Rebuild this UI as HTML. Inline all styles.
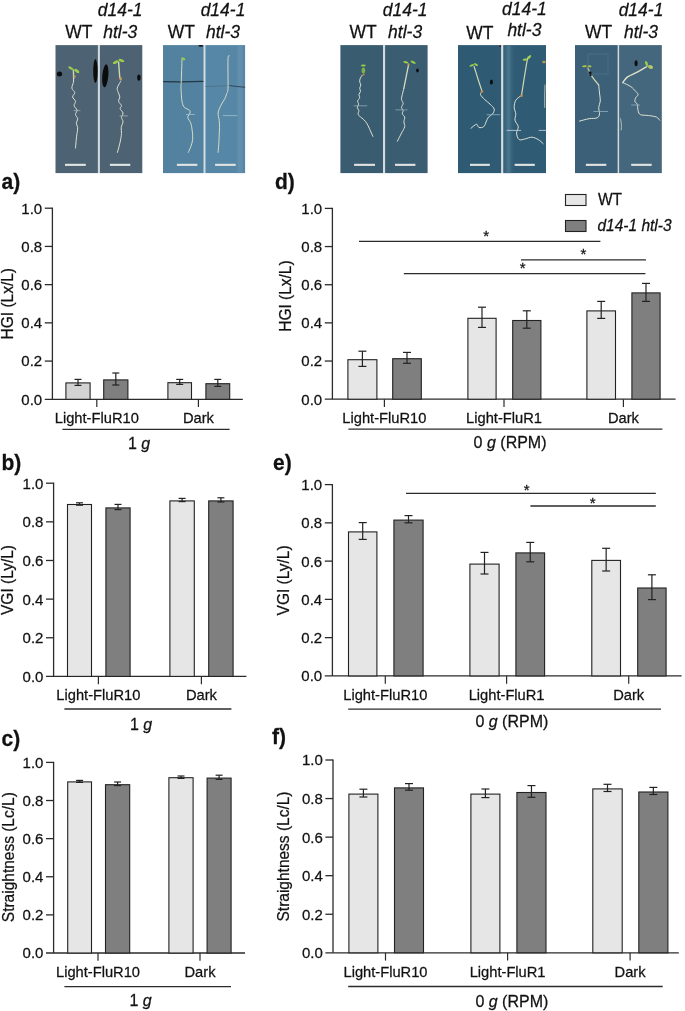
<!DOCTYPE html>
<html><head><meta charset="utf-8"><title>Figure</title>
<style>
html,body{margin:0;padding:0;background:#fff;}
body{width:685px;height:1011px;overflow:hidden;}
svg{display:block;font-family:"Liberation Sans", sans-serif;will-change:transform;}
text{stroke:#111;stroke-width:0.25px;paint-order:stroke;}
</style></head><body>
<svg width="685" height="1011" viewBox="0 0 685 1011">
<rect x="0" y="0" width="685" height="1011" fill="#fff"/>
<rect x="97.9" y="45.1" width="2" height="128" fill="#d3dbdf"/>
<rect x="203.6" y="45.1" width="1.8" height="128" fill="#d3dbdf"/>
<rect x="383" y="45.1" width="2.1" height="128" fill="#d3dbdf"/>
<rect x="501.1" y="45.1" width="2.2" height="128" fill="#d3dbdf"/>
<rect x="617.7" y="45.1" width="1.4" height="128" fill="#d3dbdf"/>
<rect x="55.5" y="45.1" width="42.4" height="128" fill="#4d6373"/>
<rect x="99.9" y="45.1" width="42.4" height="128" fill="#4d6373"/>
<rect x="163" y="45.1" width="40.6" height="128" fill="#5282a0"/>
<rect x="205.4" y="45.1" width="39.7" height="128" fill="#5787a6"/>
<rect x="340.4" y="45.1" width="42.6" height="128" fill="#3a5c71"/>
<rect x="385.1" y="45.1" width="42.5" height="128" fill="#3b5d72"/>
<rect x="458" y="45.1" width="43.1" height="128" fill="#2e5a74"/>
<rect x="503.3" y="45.1" width="42.7" height="128" fill="#305b75"/>
<rect x="575" y="45.1" width="42.7" height="128" fill="#3c6078"/>
<rect x="619.1" y="45.1" width="42.7" height="128" fill="#44677d"/>
<rect x="65" y="163.8" width="20.8" height="2.1" fill="#e2e4e4"/>
<rect x="109.9" y="163.8" width="20.4" height="2.1" fill="#e2e4e4"/>
<rect x="176.9" y="163.8" width="20.4" height="2.1" fill="#e2e4e4"/>
<rect x="215.1" y="163.8" width="20.6" height="2.1" fill="#e2e4e4"/>
<rect x="354.1" y="163.8" width="20.9" height="2.1" fill="#e2e4e4"/>
<rect x="395" y="163.8" width="20.4" height="2.1" fill="#e2e4e4"/>
<rect x="470" y="163.8" width="19.8" height="2.1" fill="#e2e4e4"/>
<rect x="514.6" y="163.8" width="20.2" height="2.1" fill="#e2e4e4"/>
<rect x="585.9" y="163.8" width="20.4" height="2.1" fill="#e2e4e4"/>
<rect x="631.2" y="163.8" width="20.5" height="2.1" fill="#e2e4e4"/>
<ellipse cx="59.5" cy="73.9" rx="2.6" ry="2.5" fill="#0c0c0c" opacity="1.0" transform="rotate(0 59.5 73.9)"/>
<ellipse cx="95.4" cy="71" rx="2.2" ry="12" fill="#0c0c0c" opacity="1.0" transform="rotate(0 95.4 71)"/>
<path d="M73.4,70 C73.43,71.4 73.57,77 73.6,78.4" fill="none" stroke="#cfd6b0" stroke-width="1.4" stroke-linejoin="round" stroke-linecap="round" opacity="1.0"/>
<path d="M73.6,78.4 C73.57,79.05 73.68,80.67 73.4,82.3 C73.12,83.93 71.67,86.48 71.9,88.2 C72.13,89.92 74.68,91.15 74.8,92.6 C74.92,94.05 72.48,95.45 72.6,96.9 C72.72,98.35 75.25,99.83 75.5,101.3 C75.75,102.77 73.85,104.23 74.1,105.7 C74.35,107.17 76.77,108.63 77,110.1 C77.23,111.57 75.38,113.05 75.5,114.5 C75.62,115.95 77.57,117.35 77.7,118.8 C77.83,120.25 76.3,121.73 76.3,123.2 C76.3,124.67 77.58,125.9 77.7,127.6 C77.82,129.3 77.23,131.45 77,133.4 C76.77,135.35 76.55,136.87 76.3,139.3 C76.05,141.73 75.63,146.55 75.5,148" fill="none" stroke="#dfe2d2" stroke-width="1.0" stroke-linejoin="round" stroke-linecap="round" opacity="1.0"/>
<path d="M74,110.6 L80,110.6" fill="none" stroke="#9fb0b8" stroke-width="0.8" stroke-linejoin="round" stroke-linecap="round" opacity="1.0"/>
<ellipse cx="70.8" cy="68.2" rx="2.8" ry="1.2" fill="#9acd4a" opacity="1.0" transform="rotate(30 70.8 68.2)"/>
<ellipse cx="76.8" cy="71" rx="3" ry="1.4" fill="#9acd4a" opacity="1.0" transform="rotate(35 76.8 71)"/>
<ellipse cx="74.6" cy="76.5" rx="1.3" ry="1.1" fill="#d49a55" opacity="1.0" transform="rotate(0 74.6 76.5)"/>
<ellipse cx="105.3" cy="75.8" rx="3" ry="11.6" fill="#0c0c0c" opacity="1.0" transform="rotate(5 105.3 75.8)"/>
<ellipse cx="138.9" cy="77.6" rx="1.7" ry="3.2" fill="#0c0c0c" opacity="1.0" transform="rotate(0 138.9 77.6)"/>
<path d="M118.6,61.9 C118.8,64.45 119.43,74.28 119.8,77.2 C120.17,80.12 120.63,79.03 120.8,79.4" fill="none" stroke="#cfd6b0" stroke-width="1.4" stroke-linejoin="round" stroke-linecap="round" opacity="1.0"/>
<path d="M120.8,80.9 C120.68,81.13 120.7,81.08 120.1,82.3 C119.5,83.52 117.5,86.48 117.2,88.2 C116.9,89.92 117.87,91.15 118.3,92.6 C118.73,94.05 119.75,95.45 119.8,96.9 C119.85,98.35 118.32,99.83 118.6,101.3 C118.88,102.77 121.25,104.48 121.5,105.7 C121.75,106.92 119.85,107.38 120.1,108.6 C120.35,109.82 122.77,111.53 123,113 C123.23,114.47 121.5,115.93 121.5,117.4 C121.5,118.87 123.05,120.1 123,121.8 C122.95,123.5 121.45,125.67 121.2,127.6 C120.95,129.53 121.68,130.97 121.5,133.4 C121.32,135.83 120.78,139.03 120.1,142.2 C119.42,145.37 117.85,150.7 117.4,152.4" fill="none" stroke="#dfe2d2" stroke-width="1.0" stroke-linejoin="round" stroke-linecap="round" opacity="1.0"/>
<path d="M120,115.9 L127.4,115.9" fill="none" stroke="#9fb0b8" stroke-width="0.8" stroke-linejoin="round" stroke-linecap="round" opacity="1.0"/>
<ellipse cx="115.6" cy="62.2" rx="3" ry="1.4" fill="#9acd4a" opacity="1.0" transform="rotate(-25 115.6 62.2)"/>
<ellipse cx="121.4" cy="60.5" rx="3" ry="1.4" fill="#9acd4a" opacity="1.0" transform="rotate(20 121.4 60.5)"/>
<ellipse cx="120.6" cy="78.6" rx="1.3" ry="1.3" fill="#d49a55" opacity="1.0" transform="rotate(0 120.6 78.6)"/>
<path d="M163.6,81.6 L180,81.9 L203,81.3" fill="none" stroke="#1c2a33" stroke-width="1.3" stroke-linejoin="round" stroke-linecap="round" opacity="0.85"/>
<path d="M182,59.7 C181.88,63.23 181.47,76.15 181.3,80.9 C181.13,85.65 180.88,84.8 181,88.2 C181.12,91.6 181.47,98.13 182,101.3 C182.53,104.47 182.98,105.73 184.2,107.2 C185.42,108.67 188.33,109.13 189.3,110.1 C190.27,111.07 190.25,111.78 190,113 C189.75,114.22 187.67,115.7 187.8,117.4 C187.93,119.1 190.07,121.02 190.8,123.2 C191.53,125.38 191.88,127.82 192.2,130.5 C192.52,133.18 192.93,136.62 192.7,139.3 C192.47,141.98 191.53,144.42 190.8,146.6 C190.07,148.78 188.72,151.43 188.3,152.4" fill="none" stroke="#d6dcc4" stroke-width="1.0" stroke-linejoin="round" stroke-linecap="round" opacity="1.0"/>
<path d="M186.4,114.5 L194.4,114.5" fill="none" stroke="#9ec0d0" stroke-width="0.8" stroke-linejoin="round" stroke-linecap="round" opacity="1.0"/>
<ellipse cx="183.2" cy="58.8" rx="2.2" ry="1.2" fill="#9acd4a" opacity="1.0" transform="rotate(20 183.2 58.8)"/>
<ellipse cx="200.8" cy="45.8" rx="2.5" ry="0.9" fill="#111" opacity="1.0" transform="rotate(0 200.8 45.8)"/>
<rect x="237.5" y="45.1" width="5" height="128" fill="#6a95b0" opacity="0.6"/>
<path d="M205.6,86.5 L220,86 L230,85.6" fill="none" stroke="#2a3a44" stroke-width="0.8" stroke-linejoin="round" stroke-linecap="round" opacity="0.3"/>
<path d="M230,85.6 L236,86.4 L244.8,87.2" fill="none" stroke="#1e2c36" stroke-width="1.0" stroke-linejoin="round" stroke-linecap="round" opacity="0.7"/>
<path d="M229.5,56 C229.25,56.5 228.25,53.63 228,59 C227.75,64.37 228.25,82.37 228,88.2 C227.75,94.03 227,92.3 226.5,94 C226,95.7 225.97,96.45 225,98.4 C224.03,100.35 221.85,103.27 220.7,105.7 C219.55,108.13 218.35,110.57 218.1,113 C217.85,115.43 218.97,117.87 219.2,120.3 C219.43,122.73 219.5,125.17 219.5,127.6 C219.5,130.03 219.3,132.47 219.2,134.9 C219.1,137.33 219.08,139.28 218.9,142.2 C218.72,145.12 218.23,150.7 218.1,152.4" fill="none" stroke="#d6dcc4" stroke-width="1.0" stroke-linejoin="round" stroke-linecap="round" opacity="1.0"/>
<path d="M223.2,115.6 L236.8,115.6" fill="none" stroke="#9ec0d0" stroke-width="0.8" stroke-linejoin="round" stroke-linecap="round" opacity="1.0"/>
<path d="M362.1,75.3 C361.78,75.83 360.6,77.42 360.2,78.5 C359.8,79.58 359.6,80.72 359.7,81.8 C359.8,82.88 360.8,83.93 360.8,85 C360.8,86.07 359.75,87.13 359.7,88.2 C359.65,89.27 360.63,90.33 360.5,91.4 C360.37,92.47 359.03,93.53 358.9,94.6 C358.77,95.67 359.92,96.73 359.7,97.8 C359.48,98.87 357.78,99.93 357.6,101 C357.42,102.07 358.65,103.13 358.6,104.2 C358.55,105.27 357.25,106.32 357.3,107.4 C357.35,108.48 358.77,109.62 358.9,110.7 C359.03,111.78 357.83,112.83 358.1,113.9 C358.37,114.97 359.57,116.17 360.5,117.1 C361.43,118.03 362.63,118.43 363.7,119.5 C364.77,120.57 365.97,122.03 366.9,123.5 C367.83,124.97 368.55,126.7 369.3,128.3 C370.05,129.9 370.78,131.75 371.4,133.1 C372.02,134.45 372.73,135.85 373,136.4" fill="none" stroke="#dfe2d2" stroke-width="1.0" stroke-linejoin="round" stroke-linecap="round" opacity="1.0"/>
<path d="M354.1,105.8 L366.9,105.8" fill="none" stroke="#90a8b8" stroke-width="0.8" stroke-linejoin="round" stroke-linecap="round" opacity="1.0"/>
<ellipse cx="363.4" cy="70.5" rx="1.8" ry="3" fill="#7fb04a" opacity="1.0" transform="rotate(0 363.4 70.5)"/>
<ellipse cx="363.3" cy="65.6" rx="2.4" ry="1" fill="#9acd4a" opacity="1.0" transform="rotate(0 363.3 65.6)"/>
<ellipse cx="363.6" cy="74.5" rx="1.1" ry="1" fill="#c88a4a" opacity="1.0" transform="rotate(0 363.6 74.5)"/>
<path d="M408.7,64.1 C408.43,65.43 407.63,69.43 407.1,72.1 C406.57,74.77 406.03,77.42 405.5,80.1 C404.97,82.78 404.17,86.85 403.9,88.2" fill="none" stroke="#d6dcc0" stroke-width="1.3" stroke-linejoin="round" stroke-linecap="round" opacity="1.0"/>
<path d="M403.9,88.2 C403.63,89.27 402.7,92.73 402.3,94.6 C401.9,96.47 401.37,97.93 401.5,99.4 C401.63,100.87 403.1,102.07 403.1,103.4 C403.1,104.73 401.5,106.18 401.5,107.4 C401.5,108.62 402.97,109.62 403.1,110.7 C403.23,111.78 402.03,112.83 402.3,113.9 C402.57,114.97 404.43,115.77 404.7,117.1 C404.97,118.43 403.9,120.3 403.9,121.9 C403.9,123.5 405.1,124.83 404.7,126.7 C404.3,128.57 402.72,130.68 401.5,133.1 C400.28,135.52 398.08,139.85 397.4,141.2" fill="none" stroke="#dfe2d2" stroke-width="1.0" stroke-linejoin="round" stroke-linecap="round" opacity="1.0"/>
<path d="M395.8,109.9 L407.1,109.9" fill="none" stroke="#90a8b8" stroke-width="0.8" stroke-linejoin="round" stroke-linecap="round" opacity="1.0"/>
<ellipse cx="405.8" cy="62.2" rx="2.6" ry="1" fill="#9acd4a" opacity="1.0" transform="rotate(15 405.8 62.2)"/>
<ellipse cx="413.2" cy="62.2" rx="2.8" ry="1.1" fill="#9acd4a" opacity="1.0" transform="rotate(25 413.2 62.2)"/>
<ellipse cx="408.5" cy="64.5" rx="1.1" ry="1" fill="#c88a4a" opacity="1.0" transform="rotate(0 408.5 64.5)"/>
<ellipse cx="417.5" cy="70.5" rx="1.3" ry="2" fill="#0c0c0c" opacity="1.0" transform="rotate(0 417.5 70.5)"/>
<path d="M474.1,66.5 C474.75,68.58 476.67,74.85 478,79 C479.33,83.15 481.42,89.33 482.1,91.4" fill="none" stroke="#cfd6b0" stroke-width="1.2" stroke-linejoin="round" stroke-linecap="round" opacity="1.0"/>
<path d="M482.1,91.4 C481.83,91.93 480.1,93.27 480.5,94.6 C480.9,95.93 482.9,97.8 484.5,99.4 C486.1,101 488.48,102.58 490.1,104.2 C491.72,105.82 493.78,107.48 494.2,109.1 C494.62,110.72 493.55,112.57 492.6,113.9 C491.65,115.23 489.58,115.77 488.5,117.1 C487.42,118.43 486.9,120.3 486.1,121.9 C485.3,123.5 484.9,125.77 483.7,126.7 C482.5,127.63 480.1,127.9 478.9,127.5 C477.7,127.1 477.83,124.17 476.5,124.3 C475.17,124.43 471.83,127.63 470.9,128.3" fill="none" stroke="#dfe2d2" stroke-width="1.0" stroke-linejoin="round" stroke-linecap="round" opacity="1.0"/>
<path d="M486.9,114.7 L499.8,114.7" fill="none" stroke="#8fb0c0" stroke-width="0.8" stroke-linejoin="round" stroke-linecap="round" opacity="1.0"/>
<ellipse cx="471.8" cy="65.4" rx="2.4" ry="1" fill="#9acd4a" opacity="1.0" transform="rotate(-20 471.8 65.4)"/>
<ellipse cx="476" cy="64.6" rx="2.2" ry="1" fill="#9acd4a" opacity="1.0" transform="rotate(30 476 64.6)"/>
<ellipse cx="482" cy="91.5" rx="1.3" ry="1.3" fill="#c88a4a" opacity="1.0" transform="rotate(0 482 91.5)"/>
<ellipse cx="491.4" cy="82.1" rx="1.5" ry="2.5" fill="#0c0c0c" opacity="1.0" transform="rotate(0 491.4 82.1)"/>
<ellipse cx="500.2" cy="46.2" rx="0.9" ry="0.9" fill="#5a1020" opacity="1.0" transform="rotate(0 500.2 46.2)"/>
<defs><linearGradient id="band8" x1="0" x2="1" y1="0" y2="0"><stop offset="0" stop-color="#3d6880" stop-opacity="0.3"/><stop offset="0.45" stop-color="#4f7b92" stop-opacity="0.9"/><stop offset="1" stop-color="#305b75" stop-opacity="0"/></linearGradient></defs>
<rect x="503.3" y="45.1" width="12" height="128" fill="url(#band8)"/>
<path d="M529,57 C528.68,57.65 528.35,54.5 527.1,60.9 C525.85,67.3 522.43,89.65 521.5,95.4" fill="none" stroke="#cfd6b0" stroke-width="1.2" stroke-linejoin="round" stroke-linecap="round" opacity="1.0"/>
<path d="M521.5,95.4 C520.55,96.2 517.02,98.2 515.8,100.2 C514.58,102.2 514.2,105.12 514.2,107.4 C514.2,109.68 515.67,111.75 515.8,113.9 C515.93,116.05 514.58,118.17 515,120.3 C515.42,122.43 518.03,124.57 518.3,126.7 C518.57,128.83 516.47,130.95 516.6,133.1 C516.73,135.25 517.62,138.65 519.1,139.6 C520.58,140.55 523.37,139.2 525.5,138.8 C527.63,138.4 529.77,137.07 531.9,137.2 C534.03,137.33 536.43,138.53 538.3,139.6 C540.17,140.67 542.3,142.93 543.1,143.6" fill="none" stroke="#dfe2d2" stroke-width="1.0" stroke-linejoin="round" stroke-linecap="round" opacity="1.0"/>
<path d="M507,130.4 L520.7,130.4" fill="none" stroke="#b8cad2" stroke-width="0.9" stroke-linejoin="round" stroke-linecap="round" opacity="1.0"/>
<path d="M539.1,130.4 L546,130.4" fill="none" stroke="#b8cad2" stroke-width="0.9" stroke-linejoin="round" stroke-linecap="round" opacity="1.0"/>
<ellipse cx="525" cy="59.6" rx="2.4" ry="1.1" fill="#9acd4a" opacity="1.0" transform="rotate(-10 525 59.6)"/>
<ellipse cx="529.5" cy="57.2" rx="2.4" ry="1.1" fill="#9acd4a" opacity="1.0" transform="rotate(-55 529.5 57.2)"/>
<ellipse cx="521.5" cy="95.8" rx="1.3" ry="1.3" fill="#c88a4a" opacity="1.0" transform="rotate(0 521.5 95.8)"/>
<ellipse cx="544" cy="62" rx="1.8" ry="1.3" fill="#b89a50" opacity="1.0" transform="rotate(0 544 62)"/>
<path d="M545,85 C544.95,86.83 544.75,92.27 544.7,96 C544.65,99.73 544.7,105.5 544.7,107.4" fill="none" stroke="#cfd6c0" stroke-width="1.0" stroke-linejoin="round" stroke-linecap="round" opacity="0.8"/>
<path d="M587.5,67.3 C588.3,68.9 590.43,73.95 592.3,76.9 C594.17,79.85 597.63,83.65 598.7,85" fill="none" stroke="#cfd6b0" stroke-width="1.2" stroke-linejoin="round" stroke-linecap="round" opacity="1.0"/>
<path d="M598.7,85 C598.83,86.33 599.23,90.33 599.5,93 C599.77,95.67 600.43,98.6 600.3,101 C600.17,103.4 598.83,105.25 598.7,107.4 C598.57,109.55 599.77,112.15 599.5,113.9 C599.23,115.65 598.83,117.1 597.1,117.9 C595.37,118.7 592.03,118.17 589.1,118.7 C586.17,119.23 581.1,120.7 579.5,121.1" fill="none" stroke="#dfe2d2" stroke-width="1.0" stroke-linejoin="round" stroke-linecap="round" opacity="1.0"/>
<path d="M593.9,111.5 L607.6,111.5" fill="none" stroke="#8fb0c0" stroke-width="0.8" stroke-linejoin="round" stroke-linecap="round" opacity="1.0"/>
<ellipse cx="584.5" cy="66.3" rx="2.4" ry="1" fill="#9acd4a" opacity="1.0" transform="rotate(-5 584.5 66.3)"/>
<ellipse cx="589.5" cy="66.3" rx="2" ry="1" fill="#9acd4a" opacity="1.0" transform="rotate(5 589.5 66.3)"/>
<ellipse cx="587.2" cy="67" rx="1" ry="0.9" fill="#b06040" opacity="1.0" transform="rotate(0 587.2 67)"/>
<ellipse cx="590.4" cy="73.7" rx="1.3" ry="2.5" fill="#0c0c0c" opacity="1.0" transform="rotate(-15 590.4 73.7)"/>
<rect x="588" y="54" width="20" height="20" fill="none" stroke="#5a7c94" stroke-width="1" opacity="0.5"/>
<path d="M646.9,66.5 C645.3,67.43 640.52,70.37 637.3,72.1 C634.08,73.83 630.02,75.15 627.6,76.9 C625.18,78.65 623.6,81.65 622.8,82.6" fill="none" stroke="#dfe2c8" stroke-width="1.4" stroke-linejoin="round" stroke-linecap="round" opacity="1.0"/>
<path d="M622.8,82.6 C624.13,83.27 628.65,85.13 630.8,86.6 C632.95,88.07 634.48,90.07 635.7,91.4 C636.92,92.73 638.1,93.53 638.1,94.6 C638.1,95.67 636.23,96.6 635.7,97.8 C635.17,99 634.63,100.73 634.9,101.8 C635.17,102.87 636.77,102.72 637.3,104.2 C637.83,105.68 637.57,108.95 638.1,110.7 C638.63,112.45 638.77,113.9 640.5,114.7 C642.23,115.5 645.83,115.1 648.5,115.5 C651.17,115.9 654.63,116.3 656.5,117.1 C658.37,117.9 659.17,119.77 659.7,120.3" fill="none" stroke="#dfe2d2" stroke-width="1.0" stroke-linejoin="round" stroke-linecap="round" opacity="1.0"/>
<path d="M620.4,118.7 C620.57,119.58 621.27,122.12 621.4,124 C621.53,125.88 621.23,129 621.2,130" fill="none" stroke="#d0d6c0" stroke-width="1.0" stroke-linejoin="round" stroke-linecap="round" opacity="0.8"/>
<path d="M631.6,105 L639.7,105" fill="none" stroke="#8fb0c0" stroke-width="0.8" stroke-linejoin="round" stroke-linecap="round" opacity="1.0"/>
<ellipse cx="646.5" cy="63.5" rx="1.3" ry="2.6" fill="#9acd4a" opacity="1.0" transform="rotate(-20 646.5 63.5)"/>
<ellipse cx="650.5" cy="67" rx="2.6" ry="1.8" fill="#b8c860" opacity="1.0" transform="rotate(20 650.5 67)"/>
<ellipse cx="636.1" cy="63.3" rx="1.5" ry="3" fill="#0c0c0c" opacity="1.0" transform="rotate(0 636.1 63.3)"/>
<text x="0" y="0" transform="translate(78.8,37.8) scale(1,1.02)" font-size="17.5" text-anchor="middle" font-weight="normal" font-style="normal" fill="#111" >WT</text>
<text x="0" y="0" transform="translate(120.2,16) scale(1,1.02)" font-size="17.5" text-anchor="middle" font-weight="normal" font-style="italic" fill="#111" >d14-1</text>
<text x="0" y="0" transform="translate(120.2,37.8) scale(1,1.02)" font-size="17.5" text-anchor="middle" font-weight="normal" font-style="italic" fill="#111" >htl-3</text>
<text x="0" y="0" transform="translate(181.4,37.8) scale(1,1.02)" font-size="17.5" text-anchor="middle" font-weight="normal" font-style="normal" fill="#111" >WT</text>
<text x="0" y="0" transform="translate(223,16) scale(1,1.02)" font-size="17.5" text-anchor="middle" font-weight="normal" font-style="italic" fill="#111" >d14-1</text>
<text x="0" y="0" transform="translate(223,37.8) scale(1,1.02)" font-size="17.5" text-anchor="middle" font-weight="normal" font-style="italic" fill="#111" >htl-3</text>
<text x="0" y="0" transform="translate(363,37.8) scale(1,1.02)" font-size="17.5" text-anchor="middle" font-weight="normal" font-style="normal" fill="#111" >WT</text>
<text x="0" y="0" transform="translate(405.1,16) scale(1,1.02)" font-size="17.5" text-anchor="middle" font-weight="normal" font-style="italic" fill="#111" >d14-1</text>
<text x="0" y="0" transform="translate(405.1,37.8) scale(1,1.02)" font-size="17.5" text-anchor="middle" font-weight="normal" font-style="italic" fill="#111" >htl-3</text>
<text x="0" y="0" transform="translate(479.8,39) scale(1,1.02)" font-size="17.5" text-anchor="middle" font-weight="normal" font-style="normal" fill="#111" >WT</text>
<text x="0" y="0" transform="translate(524.4,15) scale(1,1.02)" font-size="17.5" text-anchor="middle" font-weight="normal" font-style="italic" fill="#111" >d14-1</text>
<text x="0" y="0" transform="translate(524.4,36.2) scale(1,1.02)" font-size="17.5" text-anchor="middle" font-weight="normal" font-style="italic" fill="#111" >htl-3</text>
<text x="0" y="0" transform="translate(598.7,37.8) scale(1,1.02)" font-size="17.5" text-anchor="middle" font-weight="normal" font-style="normal" fill="#111" >WT</text>
<text x="0" y="0" transform="translate(641,16) scale(1,1.02)" font-size="17.5" text-anchor="middle" font-weight="normal" font-style="italic" fill="#111" >d14-1</text>
<text x="0" y="0" transform="translate(641,37.8) scale(1,1.02)" font-size="17.5" text-anchor="middle" font-weight="normal" font-style="italic" fill="#111" >htl-3</text>
<line x1="52.4" y1="207.6" x2="52.4" y2="399.3" stroke="#2b2b2b" stroke-width="1.3"/>
<line x1="44.8" y1="399.3" x2="242.8" y2="399.3" stroke="#2b2b2b" stroke-width="1.3"/>
<text x="0" y="0" transform="translate(42.2,404.7) scale(1,1.02)" font-size="15" text-anchor="end" font-weight="normal" font-style="normal" fill="#111" >0.0</text>
<line x1="44.8" y1="361.08" x2="52.4" y2="361.08" stroke="#2b2b2b" stroke-width="1.3"/>
<text x="0" y="0" transform="translate(42.2,366.48) scale(1,1.02)" font-size="15" text-anchor="end" font-weight="normal" font-style="normal" fill="#111" >0.2</text>
<line x1="44.8" y1="322.86" x2="52.4" y2="322.86" stroke="#2b2b2b" stroke-width="1.3"/>
<text x="0" y="0" transform="translate(42.2,328.26) scale(1,1.02)" font-size="15" text-anchor="end" font-weight="normal" font-style="normal" fill="#111" >0.4</text>
<line x1="44.8" y1="284.64" x2="52.4" y2="284.64" stroke="#2b2b2b" stroke-width="1.3"/>
<text x="0" y="0" transform="translate(42.2,290.04) scale(1,1.02)" font-size="15" text-anchor="end" font-weight="normal" font-style="normal" fill="#111" >0.6</text>
<line x1="44.8" y1="246.42" x2="52.4" y2="246.42" stroke="#2b2b2b" stroke-width="1.3"/>
<text x="0" y="0" transform="translate(42.2,251.82) scale(1,1.02)" font-size="15" text-anchor="end" font-weight="normal" font-style="normal" fill="#111" >0.8</text>
<line x1="44.8" y1="208.2" x2="52.4" y2="208.2" stroke="#2b2b2b" stroke-width="1.3"/>
<text x="0" y="0" transform="translate(42.2,213.6) scale(1,1.02)" font-size="15" text-anchor="end" font-weight="normal" font-style="normal" fill="#111" >1.0</text>
<text x="0" y="0" font-size="15.5" text-anchor="middle" fill="#111" transform="translate(13.3,303.7) rotate(-90) scale(1,1.02)">HGI (Lx/L)</text>
<text x="0" y="0" transform="translate(1.5,189.2) scale(1,1.02)" font-size="21" text-anchor="start" font-weight="bold" font-style="normal" fill="#111" >a)</text>
<rect x="65.9" y="382.9" width="24.2" height="16.4" fill="#d3d3d3" stroke="#222" stroke-width="1.1"/>
<line x1="78" y1="379.4" x2="78" y2="385.4" stroke="#222" stroke-width="1.2"/>
<line x1="74.5" y1="379.4" x2="81.5" y2="379.4" stroke="#222" stroke-width="1.2"/>
<line x1="74.5" y1="385.4" x2="81.5" y2="385.4" stroke="#222" stroke-width="1.2"/>
<rect x="103.7" y="379.9" width="24.2" height="19.4" fill="#7e7f7e" stroke="#222" stroke-width="1.1"/>
<line x1="115.8" y1="373" x2="115.8" y2="385" stroke="#222" stroke-width="1.2"/>
<line x1="112.3" y1="373" x2="119.3" y2="373" stroke="#222" stroke-width="1.2"/>
<line x1="112.3" y1="385" x2="119.3" y2="385" stroke="#222" stroke-width="1.2"/>
<rect x="167.9" y="382.7" width="23.6" height="16.6" fill="#d3d3d3" stroke="#222" stroke-width="1.1"/>
<line x1="179.7" y1="379.4" x2="179.7" y2="384.4" stroke="#222" stroke-width="1.2"/>
<line x1="176.2" y1="379.4" x2="183.2" y2="379.4" stroke="#222" stroke-width="1.2"/>
<line x1="176.2" y1="384.4" x2="183.2" y2="384.4" stroke="#222" stroke-width="1.2"/>
<rect x="205.9" y="383.7" width="23.8" height="15.6" fill="#7e7f7e" stroke="#222" stroke-width="1.1"/>
<line x1="217.8" y1="379.4" x2="217.8" y2="386.4" stroke="#222" stroke-width="1.2"/>
<line x1="214.3" y1="379.4" x2="221.3" y2="379.4" stroke="#222" stroke-width="1.2"/>
<line x1="214.3" y1="386.4" x2="221.3" y2="386.4" stroke="#222" stroke-width="1.2"/>
<line x1="96.8" y1="399.3" x2="96.8" y2="407.1" stroke="#2b2b2b" stroke-width="1.2"/>
<text x="0" y="0" transform="translate(96.8,422.6) scale(1,1.02)" font-size="14.7" text-anchor="middle" font-weight="normal" font-style="normal" fill="#111" >Light-FluR10</text>
<line x1="198.4" y1="399.3" x2="198.4" y2="407.1" stroke="#2b2b2b" stroke-width="1.2"/>
<text x="0" y="0" transform="translate(198.4,422.6) scale(1,1.02)" font-size="14.7" text-anchor="middle" font-weight="normal" font-style="normal" fill="#111" >Dark</text>
<line x1="62.4" y1="429.4" x2="229.6" y2="429.4" stroke="#2b2b2b" stroke-width="1.3"/>
<text x="0" y="0" transform="translate(128,449.2) scale(1,1.02)" font-size="16" fill="#111">1 <tspan font-style="italic">g</tspan></text>
<line x1="53.6" y1="482.6" x2="53.6" y2="676.4" stroke="#2b2b2b" stroke-width="1.3"/>
<line x1="46" y1="676.4" x2="246.4" y2="676.4" stroke="#2b2b2b" stroke-width="1.3"/>
<text x="0" y="0" transform="translate(43.4,681.8) scale(1,1.02)" font-size="15" text-anchor="end" font-weight="normal" font-style="normal" fill="#111" >0.0</text>
<line x1="46" y1="637.76" x2="53.6" y2="637.76" stroke="#2b2b2b" stroke-width="1.3"/>
<text x="0" y="0" transform="translate(43.4,643.16) scale(1,1.02)" font-size="15" text-anchor="end" font-weight="normal" font-style="normal" fill="#111" >0.2</text>
<line x1="46" y1="599.12" x2="53.6" y2="599.12" stroke="#2b2b2b" stroke-width="1.3"/>
<text x="0" y="0" transform="translate(43.4,604.52) scale(1,1.02)" font-size="15" text-anchor="end" font-weight="normal" font-style="normal" fill="#111" >0.4</text>
<line x1="46" y1="560.48" x2="53.6" y2="560.48" stroke="#2b2b2b" stroke-width="1.3"/>
<text x="0" y="0" transform="translate(43.4,565.88) scale(1,1.02)" font-size="15" text-anchor="end" font-weight="normal" font-style="normal" fill="#111" >0.6</text>
<line x1="46" y1="521.84" x2="53.6" y2="521.84" stroke="#2b2b2b" stroke-width="1.3"/>
<text x="0" y="0" transform="translate(43.4,527.24) scale(1,1.02)" font-size="15" text-anchor="end" font-weight="normal" font-style="normal" fill="#111" >0.8</text>
<line x1="46" y1="483.2" x2="53.6" y2="483.2" stroke="#2b2b2b" stroke-width="1.3"/>
<text x="0" y="0" transform="translate(43.4,488.6) scale(1,1.02)" font-size="15" text-anchor="end" font-weight="normal" font-style="normal" fill="#111" >1.0</text>
<text x="0" y="0" font-size="15.5" text-anchor="middle" fill="#111" transform="translate(12.8,580) rotate(-90) scale(1,1.02)">VGI (Ly/L)</text>
<text x="0" y="0" transform="translate(1.5,469.8) scale(1,1.02)" font-size="21" text-anchor="start" font-weight="bold" font-style="normal" fill="#111" >b)</text>
<rect x="67.5" y="504.5" width="24" height="171.9" fill="#e5e6e5" stroke="#222" stroke-width="1.1"/>
<line x1="79.5" y1="502.8" x2="79.5" y2="505.2" stroke="#222" stroke-width="1.2"/>
<line x1="76" y1="502.8" x2="83" y2="502.8" stroke="#222" stroke-width="1.2"/>
<line x1="76" y1="505.2" x2="83" y2="505.2" stroke="#222" stroke-width="1.2"/>
<rect x="105.9" y="507.9" width="24.2" height="168.5" fill="#7e7f7e" stroke="#222" stroke-width="1.1"/>
<line x1="118" y1="504.4" x2="118" y2="509.6" stroke="#222" stroke-width="1.2"/>
<line x1="114.5" y1="504.4" x2="121.5" y2="504.4" stroke="#222" stroke-width="1.2"/>
<line x1="114.5" y1="509.6" x2="121.5" y2="509.6" stroke="#222" stroke-width="1.2"/>
<rect x="169.9" y="500.9" width="24.4" height="175.5" fill="#e5e6e5" stroke="#222" stroke-width="1.1"/>
<line x1="182.1" y1="498.4" x2="182.1" y2="501.6" stroke="#222" stroke-width="1.2"/>
<line x1="178.6" y1="498.4" x2="185.6" y2="498.4" stroke="#222" stroke-width="1.2"/>
<line x1="178.6" y1="501.6" x2="185.6" y2="501.6" stroke="#222" stroke-width="1.2"/>
<rect x="208.7" y="500.9" width="24.4" height="175.5" fill="#7e7f7e" stroke="#222" stroke-width="1.1"/>
<line x1="220.9" y1="497.8" x2="220.9" y2="502" stroke="#222" stroke-width="1.2"/>
<line x1="217.4" y1="497.8" x2="224.4" y2="497.8" stroke="#222" stroke-width="1.2"/>
<line x1="217.4" y1="502" x2="224.4" y2="502" stroke="#222" stroke-width="1.2"/>
<line x1="98.4" y1="676.4" x2="98.4" y2="684.2" stroke="#2b2b2b" stroke-width="1.2"/>
<text x="0" y="0" transform="translate(98.4,699.8) scale(1,1.02)" font-size="14.7" text-anchor="middle" font-weight="normal" font-style="normal" fill="#111" >Light-FluR10</text>
<line x1="201.4" y1="676.4" x2="201.4" y2="684.2" stroke="#2b2b2b" stroke-width="1.2"/>
<text x="0" y="0" transform="translate(201.4,699.8) scale(1,1.02)" font-size="14.7" text-anchor="middle" font-weight="normal" font-style="normal" fill="#111" >Dark</text>
<line x1="64.4" y1="709" x2="231.4" y2="709" stroke="#2b2b2b" stroke-width="1.3"/>
<text x="0" y="0" transform="translate(130,729.8) scale(1,1.02)" font-size="16" fill="#111">1 <tspan font-style="italic">g</tspan></text>
<line x1="53.6" y1="761.8" x2="53.6" y2="953" stroke="#2b2b2b" stroke-width="1.3"/>
<line x1="46" y1="953" x2="245" y2="953" stroke="#2b2b2b" stroke-width="1.3"/>
<text x="0" y="0" transform="translate(43.4,958.4) scale(1,1.02)" font-size="15" text-anchor="end" font-weight="normal" font-style="normal" fill="#111" >0.0</text>
<line x1="46" y1="914.88" x2="53.6" y2="914.88" stroke="#2b2b2b" stroke-width="1.3"/>
<text x="0" y="0" transform="translate(43.4,920.28) scale(1,1.02)" font-size="15" text-anchor="end" font-weight="normal" font-style="normal" fill="#111" >0.2</text>
<line x1="46" y1="876.76" x2="53.6" y2="876.76" stroke="#2b2b2b" stroke-width="1.3"/>
<text x="0" y="0" transform="translate(43.4,882.16) scale(1,1.02)" font-size="15" text-anchor="end" font-weight="normal" font-style="normal" fill="#111" >0.4</text>
<line x1="46" y1="838.64" x2="53.6" y2="838.64" stroke="#2b2b2b" stroke-width="1.3"/>
<text x="0" y="0" transform="translate(43.4,844.04) scale(1,1.02)" font-size="15" text-anchor="end" font-weight="normal" font-style="normal" fill="#111" >0.6</text>
<line x1="46" y1="800.52" x2="53.6" y2="800.52" stroke="#2b2b2b" stroke-width="1.3"/>
<text x="0" y="0" transform="translate(43.4,805.92) scale(1,1.02)" font-size="15" text-anchor="end" font-weight="normal" font-style="normal" fill="#111" >0.8</text>
<line x1="46" y1="762.4" x2="53.6" y2="762.4" stroke="#2b2b2b" stroke-width="1.3"/>
<text x="0" y="0" transform="translate(43.4,767.8) scale(1,1.02)" font-size="15" text-anchor="end" font-weight="normal" font-style="normal" fill="#111" >1.0</text>
<text x="0" y="0" font-size="15.5" text-anchor="middle" fill="#111" transform="translate(14.1,857.2) rotate(-90) scale(1,1.02)">Straightness (Lc/L)</text>
<text x="0" y="0" transform="translate(1.5,745.8) scale(1,1.02)" font-size="21" text-anchor="start" font-weight="bold" font-style="normal" fill="#111" >c)</text>
<rect x="67.7" y="781.9" width="23.8" height="171.1" fill="#e5e6e5" stroke="#222" stroke-width="1.1"/>
<line x1="79.6" y1="780.4" x2="79.6" y2="782.4" stroke="#222" stroke-width="1.2"/>
<line x1="76.1" y1="780.4" x2="83.1" y2="780.4" stroke="#222" stroke-width="1.2"/>
<line x1="76.1" y1="782.4" x2="83.1" y2="782.4" stroke="#222" stroke-width="1.2"/>
<rect x="105.5" y="784.7" width="24.2" height="168.3" fill="#7e7f7e" stroke="#222" stroke-width="1.1"/>
<line x1="117.6" y1="782" x2="117.6" y2="785.6" stroke="#222" stroke-width="1.2"/>
<line x1="114.1" y1="782" x2="121.1" y2="782" stroke="#222" stroke-width="1.2"/>
<line x1="114.1" y1="785.6" x2="121.1" y2="785.6" stroke="#222" stroke-width="1.2"/>
<rect x="168.9" y="777.7" width="24.2" height="175.3" fill="#e5e6e5" stroke="#222" stroke-width="1.1"/>
<line x1="181" y1="776" x2="181" y2="778.4" stroke="#222" stroke-width="1.2"/>
<line x1="177.5" y1="776" x2="184.5" y2="776" stroke="#222" stroke-width="1.2"/>
<line x1="177.5" y1="778.4" x2="184.5" y2="778.4" stroke="#222" stroke-width="1.2"/>
<rect x="207.1" y="778.1" width="24" height="174.9" fill="#7e7f7e" stroke="#222" stroke-width="1.1"/>
<line x1="219.1" y1="775.2" x2="219.1" y2="779.4" stroke="#222" stroke-width="1.2"/>
<line x1="215.6" y1="775.2" x2="222.6" y2="775.2" stroke="#222" stroke-width="1.2"/>
<line x1="215.6" y1="779.4" x2="222.6" y2="779.4" stroke="#222" stroke-width="1.2"/>
<line x1="98" y1="953" x2="98" y2="960.8" stroke="#2b2b2b" stroke-width="1.2"/>
<text x="0" y="0" transform="translate(98,977.2) scale(1,1.02)" font-size="14.7" text-anchor="middle" font-weight="normal" font-style="normal" fill="#111" >Light-FluR10</text>
<line x1="200" y1="953" x2="200" y2="960.8" stroke="#2b2b2b" stroke-width="1.2"/>
<text x="0" y="0" transform="translate(200,977.2) scale(1,1.02)" font-size="14.7" text-anchor="middle" font-weight="normal" font-style="normal" fill="#111" >Dark</text>
<line x1="64.4" y1="986.6" x2="231" y2="986.6" stroke="#2b2b2b" stroke-width="1.3"/>
<text x="0" y="0" transform="translate(129.4,1006.2) scale(1,1.02)" font-size="16" fill="#111">1 <tspan font-style="italic">g</tspan></text>
<line x1="332.4" y1="207.8" x2="332.4" y2="399.2" stroke="#2b2b2b" stroke-width="1.3"/>
<line x1="324.8" y1="399.2" x2="675.6" y2="399.2" stroke="#2b2b2b" stroke-width="1.3"/>
<text x="0" y="0" transform="translate(322.2,404.6) scale(1,1.02)" font-size="15" text-anchor="end" font-weight="normal" font-style="normal" fill="#111" >0.0</text>
<line x1="324.8" y1="361.04" x2="332.4" y2="361.04" stroke="#2b2b2b" stroke-width="1.3"/>
<text x="0" y="0" transform="translate(322.2,366.44) scale(1,1.02)" font-size="15" text-anchor="end" font-weight="normal" font-style="normal" fill="#111" >0.2</text>
<line x1="324.8" y1="322.88" x2="332.4" y2="322.88" stroke="#2b2b2b" stroke-width="1.3"/>
<text x="0" y="0" transform="translate(322.2,328.28) scale(1,1.02)" font-size="15" text-anchor="end" font-weight="normal" font-style="normal" fill="#111" >0.4</text>
<line x1="324.8" y1="284.72" x2="332.4" y2="284.72" stroke="#2b2b2b" stroke-width="1.3"/>
<text x="0" y="0" transform="translate(322.2,290.12) scale(1,1.02)" font-size="15" text-anchor="end" font-weight="normal" font-style="normal" fill="#111" >0.6</text>
<line x1="324.8" y1="246.56" x2="332.4" y2="246.56" stroke="#2b2b2b" stroke-width="1.3"/>
<text x="0" y="0" transform="translate(322.2,251.96) scale(1,1.02)" font-size="15" text-anchor="end" font-weight="normal" font-style="normal" fill="#111" >0.8</text>
<line x1="324.8" y1="208.4" x2="332.4" y2="208.4" stroke="#2b2b2b" stroke-width="1.3"/>
<text x="0" y="0" transform="translate(322.2,213.8) scale(1,1.02)" font-size="15" text-anchor="end" font-weight="normal" font-style="normal" fill="#111" >1.0</text>
<text x="0" y="0" font-size="15.5" text-anchor="middle" fill="#111" transform="translate(291.3,296.1) rotate(-90) scale(1,1.02)">HGI (Lx/L)</text>
<text x="0" y="0" transform="translate(275,188.8) scale(1,1.02)" font-size="21" text-anchor="start" font-weight="bold" font-style="normal" fill="#111" >d)</text>
<rect x="347.9" y="359.7" width="29" height="39.5" fill="#e5e6e5" stroke="#222" stroke-width="1.1"/>
<line x1="362.4" y1="351.2" x2="362.4" y2="366.4" stroke="#222" stroke-width="1.2"/>
<line x1="358.4" y1="351.2" x2="366.4" y2="351.2" stroke="#222" stroke-width="1.2"/>
<line x1="358.4" y1="366.4" x2="366.4" y2="366.4" stroke="#222" stroke-width="1.2"/>
<rect x="392.7" y="358.7" width="28.6" height="40.5" fill="#7e7f7e" stroke="#222" stroke-width="1.1"/>
<line x1="407" y1="352.4" x2="407" y2="363.3" stroke="#222" stroke-width="1.2"/>
<line x1="403" y1="352.4" x2="411" y2="352.4" stroke="#222" stroke-width="1.2"/>
<line x1="403" y1="363.3" x2="411" y2="363.3" stroke="#222" stroke-width="1.2"/>
<rect x="467.9" y="318.3" width="28.2" height="80.9" fill="#e5e6e5" stroke="#222" stroke-width="1.1"/>
<line x1="482" y1="307.2" x2="482" y2="327.4" stroke="#222" stroke-width="1.2"/>
<line x1="478" y1="307.2" x2="486" y2="307.2" stroke="#222" stroke-width="1.2"/>
<line x1="478" y1="327.4" x2="486" y2="327.4" stroke="#222" stroke-width="1.2"/>
<rect x="512.7" y="320.5" width="28.2" height="78.7" fill="#7e7f7e" stroke="#222" stroke-width="1.1"/>
<line x1="526.8" y1="310.8" x2="526.8" y2="328.2" stroke="#222" stroke-width="1.2"/>
<line x1="522.8" y1="310.8" x2="530.8" y2="310.8" stroke="#222" stroke-width="1.2"/>
<line x1="522.8" y1="328.2" x2="530.8" y2="328.2" stroke="#222" stroke-width="1.2"/>
<rect x="586.9" y="310.9" width="28.6" height="88.3" fill="#e5e6e5" stroke="#222" stroke-width="1.1"/>
<line x1="601.2" y1="301.4" x2="601.2" y2="318.4" stroke="#222" stroke-width="1.2"/>
<line x1="597.2" y1="301.4" x2="605.2" y2="301.4" stroke="#222" stroke-width="1.2"/>
<line x1="597.2" y1="318.4" x2="605.2" y2="318.4" stroke="#222" stroke-width="1.2"/>
<rect x="631.9" y="292.9" width="28.2" height="106.3" fill="#7e7f7e" stroke="#222" stroke-width="1.1"/>
<line x1="646" y1="283.4" x2="646" y2="301.4" stroke="#222" stroke-width="1.2"/>
<line x1="642" y1="283.4" x2="650" y2="283.4" stroke="#222" stroke-width="1.2"/>
<line x1="642" y1="301.4" x2="650" y2="301.4" stroke="#222" stroke-width="1.2"/>
<line x1="384.4" y1="399.2" x2="384.4" y2="407" stroke="#2b2b2b" stroke-width="1.2"/>
<text x="0" y="0" transform="translate(384.4,422.6) scale(1,1.02)" font-size="14.7" text-anchor="middle" font-weight="normal" font-style="normal" fill="#111" >Light-FluR10</text>
<line x1="504" y1="399.2" x2="504" y2="407" stroke="#2b2b2b" stroke-width="1.2"/>
<text x="0" y="0" transform="translate(504,422.6) scale(1,1.02)" font-size="14.7" text-anchor="middle" font-weight="normal" font-style="normal" fill="#111" >Light-FluR1</text>
<line x1="623.4" y1="399.2" x2="623.4" y2="407" stroke="#2b2b2b" stroke-width="1.2"/>
<text x="0" y="0" transform="translate(623.4,422.6) scale(1,1.02)" font-size="14.7" text-anchor="middle" font-weight="normal" font-style="normal" fill="#111" >Dark</text>
<line x1="348.4" y1="429.2" x2="662.4" y2="429.2" stroke="#2b2b2b" stroke-width="1.3"/>
<text x="0" y="0" transform="translate(473.6,448.2) scale(1,1.02)" font-size="16" fill="#111">0 <tspan font-style="italic">g</tspan> (RPM)</text>
<line x1="359" y1="241.4" x2="600.4" y2="241.4" stroke="#2b2b2b" stroke-width="1.3"/>
<text x="0" y="0" transform="translate(486.1,241) scale(1,1.02)" font-size="15" text-anchor="middle" font-weight="normal" font-style="normal" fill="#111" >*</text>
<line x1="521" y1="259.8" x2="646" y2="259.8" stroke="#2b2b2b" stroke-width="1.3"/>
<text x="0" y="0" transform="translate(583.4,259.4) scale(1,1.02)" font-size="15" text-anchor="middle" font-weight="normal" font-style="normal" fill="#111" >*</text>
<line x1="403.8" y1="273.6" x2="645.4" y2="273.6" stroke="#2b2b2b" stroke-width="1.3"/>
<text x="0" y="0" transform="translate(522.6,273.2) scale(1,1.02)" font-size="15" text-anchor="middle" font-weight="normal" font-style="normal" fill="#111" >*</text>
<line x1="332.4" y1="484" x2="332.4" y2="675.9" stroke="#2b2b2b" stroke-width="1.3"/>
<line x1="324.8" y1="675.9" x2="681.6" y2="675.9" stroke="#2b2b2b" stroke-width="1.3"/>
<text x="0" y="0" transform="translate(322.2,681.3) scale(1,1.02)" font-size="15" text-anchor="end" font-weight="normal" font-style="normal" fill="#111" >0.0</text>
<line x1="324.8" y1="637.64" x2="332.4" y2="637.64" stroke="#2b2b2b" stroke-width="1.3"/>
<text x="0" y="0" transform="translate(322.2,643.04) scale(1,1.02)" font-size="15" text-anchor="end" font-weight="normal" font-style="normal" fill="#111" >0.2</text>
<line x1="324.8" y1="599.38" x2="332.4" y2="599.38" stroke="#2b2b2b" stroke-width="1.3"/>
<text x="0" y="0" transform="translate(322.2,604.78) scale(1,1.02)" font-size="15" text-anchor="end" font-weight="normal" font-style="normal" fill="#111" >0.4</text>
<line x1="324.8" y1="561.12" x2="332.4" y2="561.12" stroke="#2b2b2b" stroke-width="1.3"/>
<text x="0" y="0" transform="translate(322.2,566.52) scale(1,1.02)" font-size="15" text-anchor="end" font-weight="normal" font-style="normal" fill="#111" >0.6</text>
<line x1="324.8" y1="522.86" x2="332.4" y2="522.86" stroke="#2b2b2b" stroke-width="1.3"/>
<text x="0" y="0" transform="translate(322.2,528.26) scale(1,1.02)" font-size="15" text-anchor="end" font-weight="normal" font-style="normal" fill="#111" >0.8</text>
<line x1="324.8" y1="484.6" x2="332.4" y2="484.6" stroke="#2b2b2b" stroke-width="1.3"/>
<text x="0" y="0" transform="translate(322.2,490) scale(1,1.02)" font-size="15" text-anchor="end" font-weight="normal" font-style="normal" fill="#111" >1.0</text>
<text x="0" y="0" font-size="15.5" text-anchor="middle" fill="#111" transform="translate(288.8,580.4) rotate(-90) scale(1,1.02)">VGI (Ly/L)</text>
<text x="0" y="0" transform="translate(273,469.8) scale(1,1.02)" font-size="21" text-anchor="start" font-weight="bold" font-style="normal" fill="#111" >e)</text>
<rect x="348.5" y="531.9" width="28.4" height="144" fill="#e5e6e5" stroke="#222" stroke-width="1.1"/>
<line x1="362.7" y1="522.6" x2="362.7" y2="539.4" stroke="#222" stroke-width="1.2"/>
<line x1="358.7" y1="522.6" x2="366.7" y2="522.6" stroke="#222" stroke-width="1.2"/>
<line x1="358.7" y1="539.4" x2="366.7" y2="539.4" stroke="#222" stroke-width="1.2"/>
<rect x="393.9" y="520.1" width="29.2" height="155.8" fill="#7e7f7e" stroke="#222" stroke-width="1.1"/>
<line x1="408.5" y1="515.6" x2="408.5" y2="522.8" stroke="#222" stroke-width="1.2"/>
<line x1="404.5" y1="515.6" x2="412.5" y2="515.6" stroke="#222" stroke-width="1.2"/>
<line x1="404.5" y1="522.8" x2="412.5" y2="522.8" stroke="#222" stroke-width="1.2"/>
<rect x="469.9" y="564.1" width="29.2" height="111.8" fill="#e5e6e5" stroke="#222" stroke-width="1.1"/>
<line x1="484.5" y1="552.4" x2="484.5" y2="574" stroke="#222" stroke-width="1.2"/>
<line x1="480.5" y1="552.4" x2="488.5" y2="552.4" stroke="#222" stroke-width="1.2"/>
<line x1="480.5" y1="574" x2="488.5" y2="574" stroke="#222" stroke-width="1.2"/>
<rect x="515.9" y="552.9" width="28.7" height="123" fill="#7e7f7e" stroke="#222" stroke-width="1.1"/>
<line x1="530.25" y1="542.4" x2="530.25" y2="561.8" stroke="#222" stroke-width="1.2"/>
<line x1="526.25" y1="542.4" x2="534.25" y2="542.4" stroke="#222" stroke-width="1.2"/>
<line x1="526.25" y1="561.8" x2="534.25" y2="561.8" stroke="#222" stroke-width="1.2"/>
<rect x="591.8" y="560.4" width="28.7" height="115.5" fill="#e5e6e5" stroke="#222" stroke-width="1.1"/>
<line x1="606.15" y1="548.3" x2="606.15" y2="571" stroke="#222" stroke-width="1.2"/>
<line x1="602.15" y1="548.3" x2="610.15" y2="548.3" stroke="#222" stroke-width="1.2"/>
<line x1="602.15" y1="571" x2="610.15" y2="571" stroke="#222" stroke-width="1.2"/>
<rect x="637.7" y="588" width="28.4" height="87.9" fill="#7e7f7e" stroke="#222" stroke-width="1.1"/>
<line x1="651.9" y1="574.8" x2="651.9" y2="599.6" stroke="#222" stroke-width="1.2"/>
<line x1="647.9" y1="574.8" x2="655.9" y2="574.8" stroke="#222" stroke-width="1.2"/>
<line x1="647.9" y1="599.6" x2="655.9" y2="599.6" stroke="#222" stroke-width="1.2"/>
<line x1="385.3" y1="675.9" x2="385.3" y2="683.7" stroke="#2b2b2b" stroke-width="1.2"/>
<text x="0" y="0" transform="translate(385.3,700) scale(1,1.02)" font-size="14.7" text-anchor="middle" font-weight="normal" font-style="normal" fill="#111" >Light-FluR10</text>
<line x1="506.6" y1="675.9" x2="506.6" y2="683.7" stroke="#2b2b2b" stroke-width="1.2"/>
<text x="0" y="0" transform="translate(506.6,700) scale(1,1.02)" font-size="14.7" text-anchor="middle" font-weight="normal" font-style="normal" fill="#111" >Light-FluR1</text>
<line x1="628.7" y1="675.9" x2="628.7" y2="683.7" stroke="#2b2b2b" stroke-width="1.2"/>
<text x="0" y="0" transform="translate(628.7,700) scale(1,1.02)" font-size="14.7" text-anchor="middle" font-weight="normal" font-style="normal" fill="#111" >Dark</text>
<line x1="348.2" y1="709.2" x2="661" y2="709.2" stroke="#2b2b2b" stroke-width="1.3"/>
<text x="0" y="0" transform="translate(475.4,727) scale(1,1.02)" font-size="16" fill="#111">0 <tspan font-style="italic">g</tspan> (RPM)</text>
<line x1="406" y1="493.4" x2="655.8" y2="493.4" stroke="#2b2b2b" stroke-width="1.3"/>
<text x="0" y="0" transform="translate(526.6,495.3) scale(1,1.02)" font-size="15" text-anchor="middle" font-weight="normal" font-style="normal" fill="#111" >*</text>
<line x1="530.4" y1="506" x2="655.8" y2="506" stroke="#2b2b2b" stroke-width="1.3"/>
<text x="0" y="0" transform="translate(592.7,507.9) scale(1,1.02)" font-size="15" text-anchor="middle" font-weight="normal" font-style="normal" fill="#111" >*</text>
<line x1="333" y1="759.4" x2="333" y2="952.8" stroke="#2b2b2b" stroke-width="1.3"/>
<line x1="325.4" y1="952.8" x2="678.8" y2="952.8" stroke="#2b2b2b" stroke-width="1.3"/>
<text x="0" y="0" transform="translate(322.8,958.2) scale(1,1.02)" font-size="15" text-anchor="end" font-weight="normal" font-style="normal" fill="#111" >0.0</text>
<line x1="325.4" y1="914.24" x2="333" y2="914.24" stroke="#2b2b2b" stroke-width="1.3"/>
<text x="0" y="0" transform="translate(322.8,919.64) scale(1,1.02)" font-size="15" text-anchor="end" font-weight="normal" font-style="normal" fill="#111" >0.2</text>
<line x1="325.4" y1="875.68" x2="333" y2="875.68" stroke="#2b2b2b" stroke-width="1.3"/>
<text x="0" y="0" transform="translate(322.8,881.08) scale(1,1.02)" font-size="15" text-anchor="end" font-weight="normal" font-style="normal" fill="#111" >0.4</text>
<line x1="325.4" y1="837.12" x2="333" y2="837.12" stroke="#2b2b2b" stroke-width="1.3"/>
<text x="0" y="0" transform="translate(322.8,842.52) scale(1,1.02)" font-size="15" text-anchor="end" font-weight="normal" font-style="normal" fill="#111" >0.6</text>
<line x1="325.4" y1="798.56" x2="333" y2="798.56" stroke="#2b2b2b" stroke-width="1.3"/>
<text x="0" y="0" transform="translate(322.8,803.96) scale(1,1.02)" font-size="15" text-anchor="end" font-weight="normal" font-style="normal" fill="#111" >0.8</text>
<line x1="325.4" y1="760" x2="333" y2="760" stroke="#2b2b2b" stroke-width="1.3"/>
<text x="0" y="0" transform="translate(322.8,765.4) scale(1,1.02)" font-size="15" text-anchor="end" font-weight="normal" font-style="normal" fill="#111" >1.0</text>
<text x="0" y="0" font-size="15.5" text-anchor="middle" fill="#111" transform="translate(289.1,856.5) rotate(-90) scale(1,1.02)">Straightness (Lc/L)</text>
<text x="0" y="0" transform="translate(272,743.8) scale(1,1.02)" font-size="21" text-anchor="start" font-weight="bold" font-style="normal" fill="#111" >f)</text>
<rect x="348.9" y="794.1" width="29" height="158.7" fill="#e5e6e5" stroke="#222" stroke-width="1.1"/>
<line x1="363.4" y1="789.2" x2="363.4" y2="797" stroke="#222" stroke-width="1.2"/>
<line x1="359.4" y1="789.2" x2="367.4" y2="789.2" stroke="#222" stroke-width="1.2"/>
<line x1="359.4" y1="797" x2="367.4" y2="797" stroke="#222" stroke-width="1.2"/>
<rect x="394.5" y="787.9" width="29" height="164.9" fill="#7e7f7e" stroke="#222" stroke-width="1.1"/>
<line x1="409" y1="783.6" x2="409" y2="790.2" stroke="#222" stroke-width="1.2"/>
<line x1="405" y1="783.6" x2="413" y2="783.6" stroke="#222" stroke-width="1.2"/>
<line x1="405" y1="790.2" x2="413" y2="790.2" stroke="#222" stroke-width="1.2"/>
<rect x="470.9" y="794.1" width="29" height="158.7" fill="#e5e6e5" stroke="#222" stroke-width="1.1"/>
<line x1="485.4" y1="789" x2="485.4" y2="797.6" stroke="#222" stroke-width="1.2"/>
<line x1="481.4" y1="789" x2="489.4" y2="789" stroke="#222" stroke-width="1.2"/>
<line x1="481.4" y1="797.6" x2="489.4" y2="797.6" stroke="#222" stroke-width="1.2"/>
<rect x="516.9" y="792.5" width="29.1" height="160.3" fill="#7e7f7e" stroke="#222" stroke-width="1.1"/>
<line x1="531.45" y1="785.6" x2="531.45" y2="797.3" stroke="#222" stroke-width="1.2"/>
<line x1="527.45" y1="785.6" x2="535.45" y2="785.6" stroke="#222" stroke-width="1.2"/>
<line x1="527.45" y1="797.3" x2="535.45" y2="797.3" stroke="#222" stroke-width="1.2"/>
<rect x="592.8" y="788.9" width="29.4" height="163.9" fill="#e5e6e5" stroke="#222" stroke-width="1.1"/>
<line x1="607.5" y1="784.3" x2="607.5" y2="791.5" stroke="#222" stroke-width="1.2"/>
<line x1="603.5" y1="784.3" x2="611.5" y2="784.3" stroke="#222" stroke-width="1.2"/>
<line x1="603.5" y1="791.5" x2="611.5" y2="791.5" stroke="#222" stroke-width="1.2"/>
<rect x="638.8" y="792" width="29.1" height="160.8" fill="#7e7f7e" stroke="#222" stroke-width="1.1"/>
<line x1="653.35" y1="787.4" x2="653.35" y2="794.5" stroke="#222" stroke-width="1.2"/>
<line x1="649.35" y1="787.4" x2="657.35" y2="787.4" stroke="#222" stroke-width="1.2"/>
<line x1="649.35" y1="794.5" x2="657.35" y2="794.5" stroke="#222" stroke-width="1.2"/>
<line x1="385.5" y1="952.8" x2="385.5" y2="960.6" stroke="#2b2b2b" stroke-width="1.2"/>
<text x="0" y="0" transform="translate(385.5,976.8) scale(1,1.02)" font-size="14.7" text-anchor="middle" font-weight="normal" font-style="normal" fill="#111" >Light-FluR10</text>
<line x1="507.6" y1="952.8" x2="507.6" y2="960.6" stroke="#2b2b2b" stroke-width="1.2"/>
<text x="0" y="0" transform="translate(507.6,976.8) scale(1,1.02)" font-size="14.7" text-anchor="middle" font-weight="normal" font-style="normal" fill="#111" >Light-FluR1</text>
<line x1="630.1" y1="952.8" x2="630.1" y2="960.6" stroke="#2b2b2b" stroke-width="1.2"/>
<text x="0" y="0" transform="translate(630.1,976.8) scale(1,1.02)" font-size="14.7" text-anchor="middle" font-weight="normal" font-style="normal" fill="#111" >Dark</text>
<line x1="348.2" y1="986.5" x2="662.7" y2="986.5" stroke="#2b2b2b" stroke-width="1.3"/>
<text x="0" y="0" transform="translate(475.4,1006.6) scale(1,1.02)" font-size="16" fill="#111">0 <tspan font-style="italic">g</tspan> (RPM)</text>
<rect x="565.5" y="194.5" width="20.5" height="11" fill="#e5e6e5" stroke="#222" stroke-width="1.1"/>
<rect x="565.5" y="220.5" width="20.5" height="11" fill="#7e7f7e" stroke="#222" stroke-width="1.1"/>
<text x="0" y="0" transform="translate(598,205.2) scale(1,1.02)" font-size="15.5" text-anchor="start" font-weight="normal" font-style="normal" fill="#111" >WT</text>
<text x="0" y="0" transform="translate(597.5,230.8) scale(1,1.02)" font-size="15.5" text-anchor="start" font-weight="normal" font-style="italic" fill="#111" >d14-1 htl-3</text>
</svg>
</body></html>
